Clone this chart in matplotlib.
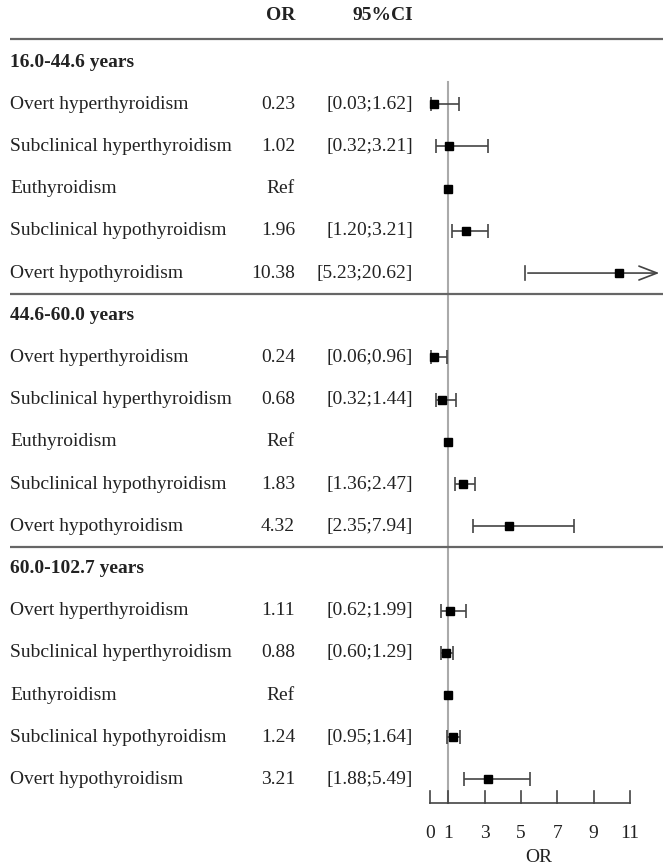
import matplotlib
matplotlib.use('Agg')
import matplotlib.pyplot as plt
from matplotlib.transforms import blended_transform_factory

plt.rcParams['font.family'] = ['Liberation Serif', 'DejaVu Serif']

# data
groups = ['16.0-44.6 years', '44.6-60.0 years', '60.0-102.7 years']
conditions = ['Overt hyperthyroidism', 'Subclinical hyperthyroidism', 'Euthyroidism',
              'Subclinical hypothyroidism', 'Overt hypothyroidism']
or_vals = [
    [0.23, 1.02, 1.0, 1.96, 10.38],
    [0.24, 0.68, 1.0, 1.83, 4.32],
    [1.11, 0.88, 1.0, 1.24, 3.21],
]
ci_low = [
    [0.03, 0.32, None, 1.20, 5.23],
    [0.06, 0.32, None, 1.36, 2.35],
    [0.62, 0.60, None, 0.95, 1.88],
]
ci_high = [
    [1.62, 3.21, None, 3.21, 20.62],
    [0.96, 1.44, None, 2.47, 7.94],
    [1.99, 1.29, None, 1.64, 5.49],
]
xticks = [0, 1, 3, 5, 7, 9, 11]

fig = plt.figure(figsize=(6.63, 8.66), dpi=100)
ax = fig.add_axes([0, 0, 1, 1])
ax.set_xlim(-430 / 18.18, (663 - 430) / 18.18)
ax.set_ylim(19.05, -1.47)
ax.axis('off')
xmax = ax.get_xlim()[1] - 0.05

tr = blended_transform_factory(fig.transFigure, ax.transData)
txt_col = '#222222'
fs = 14

def fx(px):
    return px / 663

# column headers
ax.text(fx(295), -1.11, 'OR', transform=tr, ha='right', va='center', fontsize=fs, fontweight='bold', color=txt_col)
ax.text(fx(413), -1.11, '95%CI', transform=tr, ha='right', va='center', fontsize=fs, fontweight='bold', color=txt_col)

# separators
for ysep in [-0.55, 5.5, 11.5]:
    ax.plot([fx(10), 1], [ysep, ysep], transform=tr, color='#666666', lw=1.6, solid_capstyle='butt')

# reference line
ax.plot([1, 1], [0.47, 17.55], color='#aaaaaa', lw=1.5, zorder=1)

for g, gname in enumerate(groups):
    base = g * 6
    ax.text(fx(10), base, gname, transform=tr, ha='left', va='center', fontsize=fs, fontweight='bold', color=txt_col)
    for i, cond in enumerate(conditions):
        y = base + 1 + i
        ax.text(fx(10), y, cond, transform=tr, ha='left', va='center', fontsize=fs, color=txt_col)
        lo, hi, orv = ci_low[g][i], ci_high[g][i], or_vals[g][i]
        if lo is None:
            ax.text(fx(295), y, 'Ref', transform=tr, ha='right', va='center', fontsize=fs, color=txt_col)
        else:
            ax.text(fx(295), y, f'{orv:.2f}', transform=tr, ha='right', va='center', fontsize=fs, color=txt_col)
            ax.text(fx(413), y, f'[{lo:.2f};{hi:.2f}]', transform=tr, ha='right', va='center', fontsize=fs, color=txt_col)
            if hi > xmax:
                ax.plot([lo, lo], [y - 0.16, y + 0.16], color='#444444', lw=1.2)
                ax.annotate('', xy=(xmax, y), xytext=(lo, y),
                            arrowprops=dict(arrowstyle='->,head_length=1.3,head_width=0.5', color='#444444', lw=1.2))
            else:
                ax.errorbar([orv], [y], xerr=[[orv - lo], [hi - orv]], fmt='none',
                            ecolor='#444444', elinewidth=1.2, capsize=4.7, capthick=1.2)
        ax.plot([orv], [y], marker='s', color='black', markersize=6, zorder=5)

# x axis
ax.plot([xticks[0], xticks[-1]], [17.55, 17.55], color='#444444', lw=1.2)
for t in xticks:
    ax.plot([t, t], [17.55, 17.27], color='#444444', lw=1.2)
    ax.text(t, 18.27, str(t), ha='center', va='center', fontsize=fs, color=txt_col)
ax.text(6, 18.84, 'OR', ha='center', va='center', fontsize=fs, color=txt_col)

fig.savefig('out.png', dpi=100)
